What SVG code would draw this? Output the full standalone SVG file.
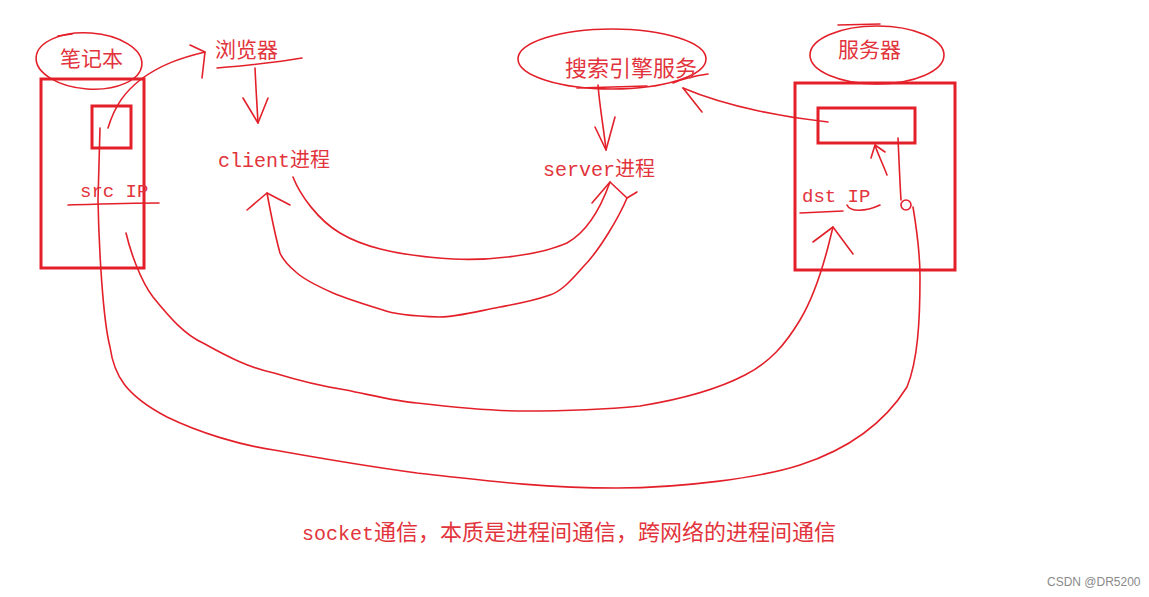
<svg xmlns="http://www.w3.org/2000/svg" width="1149" height="597" viewBox="0 0 1149 597">
<style>
.box{fill:none;stroke:#e3202a;stroke-width:3}
.pen{fill:none;stroke:#e3202a;stroke-width:1.6;stroke-linecap:round;stroke-linejoin:round}
.cjk{font-family:"Noto Sans CJK SC","Noto Sans",sans-serif;fill:#e2343c}
.mix{font-family:"Liberation Mono","Noto Sans CJK SC",monospace;fill:#e2343c}
</style>
<rect width="1149" height="597" fill="#ffffff"/>
<g id="laptop">
<ellipse class="pen" cx="89" cy="61" rx="53" ry="28" transform="rotate(4 89 61)"/>
<path class="pen" d="M58,36 L72,34"/>
<text class="cjk" x="60" y="66" font-size="21">笔记本</text>
<rect class="box" x="41" y="79" width="103" height="189"/>
<rect class="box" x="92" y="106" width="39" height="42"/>
<text class="mix" x="80" y="197" font-size="19">src IP</text>
<path class="pen" d="M68,205 C100,204 130,203 159,203"/>
</g>
<g id="browser">
<text class="cjk" x="215" y="57" font-size="21">浏览器</text>
<path class="pen" d="M217,68 C240,66 280,62 302,58"/>
</g>
<g id="client">
<text class="mix" x="218" y="167" font-size="20">client进程</text>
</g>
<g id="search">
<ellipse class="pen" cx="612" cy="59" rx="94" ry="30"/>
<path class="pen" d="M673,83 C685,78 700,75 708,74"/>
<text class="cjk" x="565" y="76" font-size="22">搜索引擎服务</text>
<path class="pen" d="M577,88 L647,86"/>
</g>
<g id="serverproc">
<text class="mix" x="543" y="176" font-size="20">server进程</text>
</g>
<g id="server">
<ellipse class="pen" cx="877" cy="55" rx="67" ry="29"/>
<path class="pen" d="M838,25 L880,24"/>
<text class="cjk" x="838" y="57" font-size="21">服务器</text>
<rect class="box" x="795" y="83" width="160" height="187"/>
<rect class="box" x="818" y="108" width="97" height="35"/>
<text class="mix" x="802" y="202" font-size="19">dst IP</text>
<path class="pen" d="M800,213 L843,211"/>
<path class="pen" d="M847,205 C850,212 865,212 880,205"/>
</g>
<g id="connectors">
<path class="pen" d="M108,128 C115,105 125,92 140,80 C160,65 180,58 205,52"/>
<path class="pen" d="M190,45 L205,52 L202,78"/>
<path class="pen" d="M255,68 C256,90 257,105 258,123"/>
<path class="pen" d="M243,98 L258,123 L268,98"/>
<path class="pen" d="M598,85 C600,110 604,130 606,150"/>
<path class="pen" d="M595,127 L606,150 L615,117"/>
<path class="pen" d="M828,122 C790,118 730,108 683,88"/>
<path class="pen" d="M683,88 L702,112"/>
<path class="pen" d="M887,175 C882,162 877,152 875,145"/>
<path class="pen" d="M871,158 L875,145 L885,152"/>
<path class="pen" d="M898,138 C899,160 900,185 901,200"/>
<circle class="pen" cx="906" cy="205" r="5"/>
<path class="pen" d="M293,177 C300,195 318,220 340,233 C360,245 390,255 453,259 C490,261 540,255 567,243 C585,233 600,210 610,182"/>
<path class="pen" d="M592,203 L610,182 L627,198 L637,192"/>
<path class="pen" d="M627,198 C620,215 600,250 583,267 C570,282 560,292 550,295 C530,302 510,305 500,307 C470,313 455,317 440,317 C410,316 390,313 383,310 C360,303 345,298 333,293 C315,285 305,280 297,273 C285,263 282,258 280,253 C275,235 272,220 267,193"/>
<path class="pen" d="M247,210 L267,193 L290,205"/>
<path class="pen" d="M126,233 C130,250 140,280 153,297 C170,318 185,335 203,343 C230,358 250,368 274,373 C300,381 320,386 346,390 C380,397 400,402 417,403 C460,408 500,411 524,411 C560,411 600,410 640,406 C683,399 720,388 745,375 C770,362 785,345 800,320 C812,300 822,270 828,247 L833,227"/>
<path class="pen" d="M813,242 L833,227 L853,254"/>
<path class="pen" d="M100,128 L98,200 C99,250 103,320 110,347 C114,375 125,395 167,417 C200,433 240,445 274,450 C330,460 380,468 417,473 C480,480 540,488 617,488 C680,488 760,478 800,465 C840,452 880,430 907,387 C918,360 920,320 920,277 C920,250 916,225 913,207"/>
</g>
<g id="caption">
<text x="302" y="540"><tspan class="mix" font-size="20">socket</tspan><tspan class="cjk" font-size="22">通信，本质是进程间通信，跨网络的进程间通信</tspan></text>
</g>
<g id="watermark">
<text x="1047" y="586" font-family="Liberation Sans, Arial, sans-serif" font-size="12" fill="#8a8a8a">CSDN @DR5200</text>
</g>
</svg>
